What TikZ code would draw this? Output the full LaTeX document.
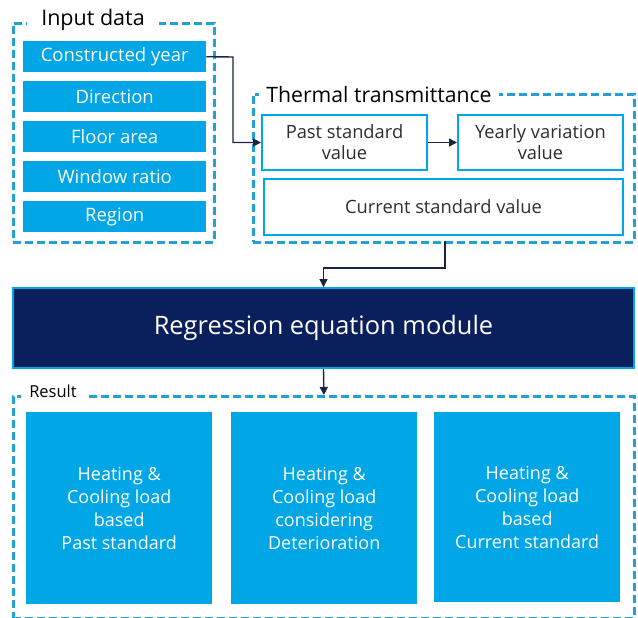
\documentclass[tikz,border=0pt]{standalone}
\usepackage{fontspec}
\setmainfont{Open Sans}
\usetikzlibrary{arrows.meta,calc}
\definecolor{boxblue}{RGB}{0,166,230}
\definecolor{dashblue}{RGB}{35,160,215}
\definecolor{navy}{RGB}{10,32,92}
\definecolor{arrowcol}{RGB}{25,35,70}
\definecolor{txtgray}{RGB}{45,45,45}
\tikzset{
  group/.style={draw=dashblue,line width=2.8pt,dash pattern=on 8pt off 4pt,inner sep=0pt,anchor=north west},
  grouplabel/.style={fill=white,inner ysep=2pt,text=black,anchor=center},
  inbox/.style={fill=boxblue,draw=none,text=white,anchor=north west,inner sep=0pt,
     font=\fontsize{18.5}{22}\selectfont},
  tbox/.style={fill=white,draw=boxblue,line width=2pt,text=txtgray,anchor=north west,inner sep=0pt,
     align=center,font=\fontsize{18.3}{21}\selectfont},
  rbox/.style={fill=boxblue,draw=none,text=white,anchor=north west,inner sep=0pt,
     align=center,font=\fontsize{18}{23}\selectfont},
  regbox/.style={fill=navy,draw=boxblue,line width=2pt,text=white,anchor=north west,inner sep=0pt,
     font=\fontsize{25.4}{30}\selectfont},
  arr/.style={draw=arrowcol,line width=1.4pt,-{Triangle[length=8pt,width=8pt]}},
}
\begin{document}
\begin{tikzpicture}[x=1pt,y=-1pt]
\useasboundingbox[fill=white] (0,0) rectangle (638,618);
% groups
\node[group,minimum width=201pt,minimum height=219pt] (inputgrp) at (12,22) {};
\node[group,minimum width=381pt,minimum height=148pt] (thermgrp) at (252,93) {};
\node[group,minimum width=621pt,minimum height=222pt] (resgrp) at (12,395) {};
\node[grouplabel,inner xsep=14pt,font=\fontsize{21.5}{25}\selectfont] (inputlbl) at (93,20) {Input data};
\node[grouplabel,inner xsep=7pt,font=\fontsize{21.2}{25}\selectfont] (thermlbl) at (379,95) {Thermal transmittance};
\node[grouplabel,inner xsep=8pt,font=\fontsize{16.5}{20}\selectfont] (reslbl) at (53,391) {Result};
% input boxes
\node[inbox,minimum width=183pt,minimum height=31pt] (cy) at (23,41) {Constructed year};
\node[inbox,minimum width=183pt,minimum height=31pt] (dir) at (23,81) {Direction};
\node[inbox,minimum width=183pt,minimum height=31pt] (fa) at (23,121) {Floor area};
\node[inbox,minimum width=183pt,minimum height=31pt] (wr) at (23,161) {Window ratio};
\node[inbox,minimum width=183pt,minimum height=31pt] (reg) at (23,201) {Region};
% thermal boxes
\node[tbox,minimum width=165pt,minimum height=55pt] (past) at (261,114) {Past standard\\value};
\node[tbox,minimum width=165pt,minimum height=55pt] (yearly) at (457,114) {Yearly variation\\value};
\node[tbox,minimum width=359pt,minimum height=56pt] (current) at (263,178) {Current standard value};
% regression
\node[regbox,minimum width=621pt,minimum height=80pt] (module) at (12,287) {Regression equation module};
% result boxes
\node[rbox,minimum width=186pt,minimum height=192pt] (r1) at (26,412) {Heating \&\\Cooling load\\based\\Past standard};
\node[rbox,minimum width=186pt,minimum height=192pt] (r2) at (231,412) {Heating \&\\Cooling load\\considering\\Deterioration};
\node[rbox,minimum width=186pt,minimum height=190pt] (r3) at (434,412) {Heating \&\\Cooling load\\based\\Current standard};
% connectors
\coordinate (bend1) at (233,57);
\coordinate (tout) at (445,241);
\coordinate (bend2) at (445,268);
\draw[arr] (cy.east) -- (bend1) |- (past.west);
\draw[arr] (past.east) -- (yearly.west);
\draw[arr] (tout) -- (bend2) -| (module.north);
\draw[arr] (module.south) -- (resgrp.north);
\end{tikzpicture}
\end{document}
